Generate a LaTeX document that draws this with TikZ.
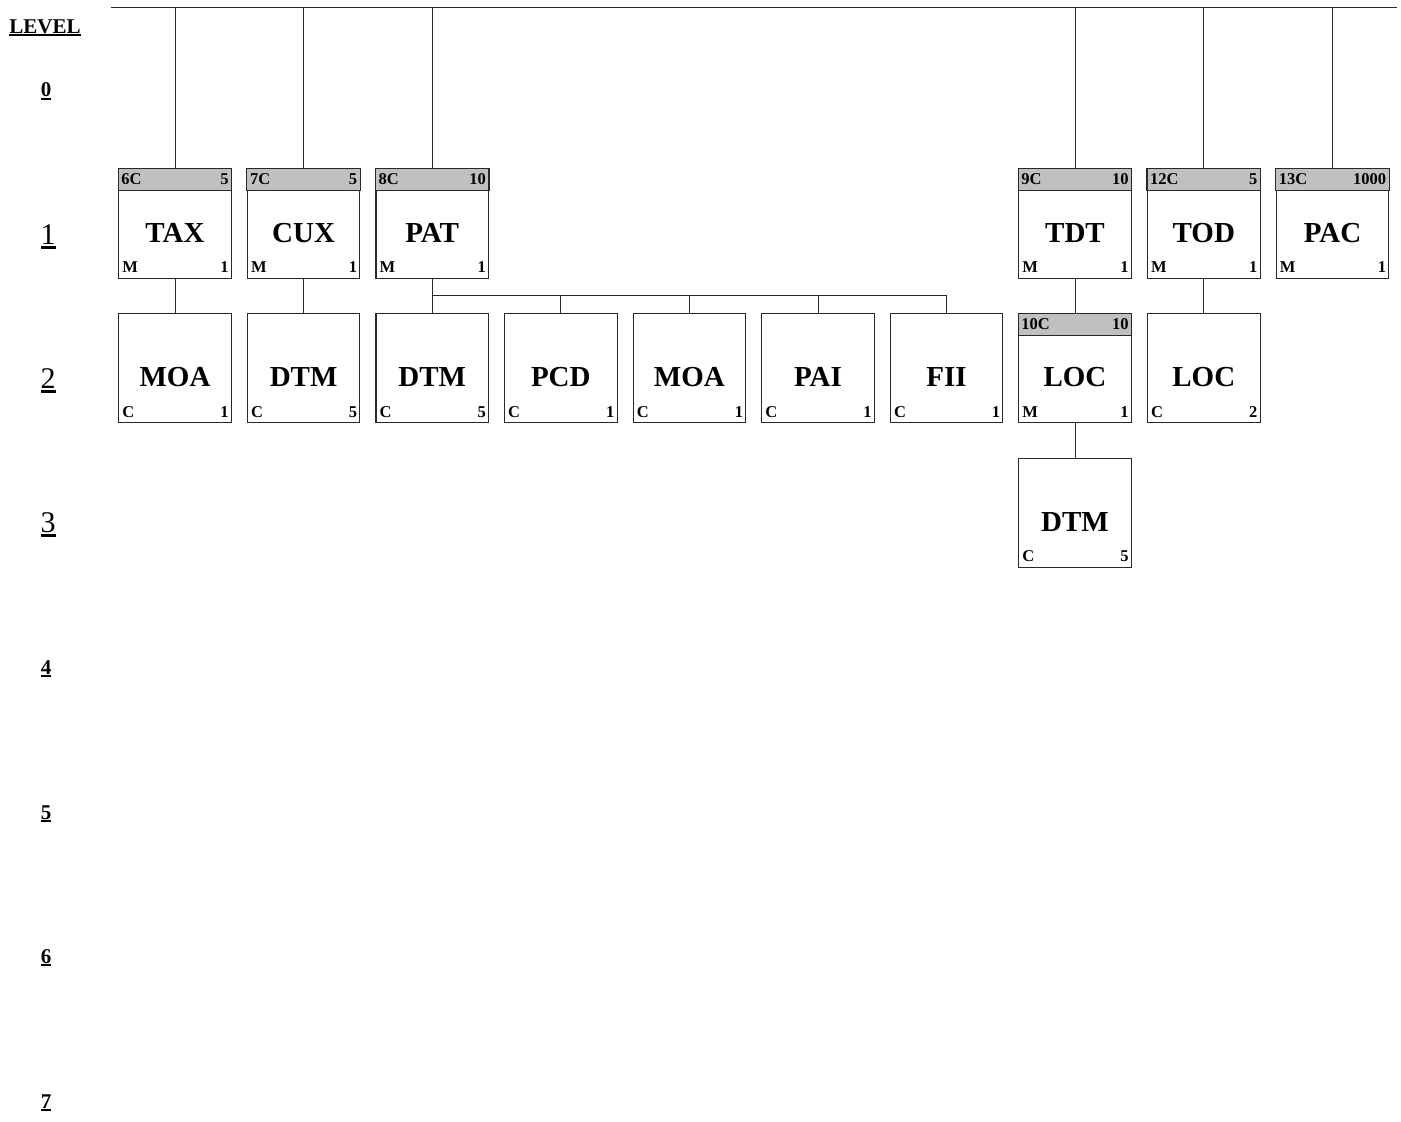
\documentclass[tikz,border=0pt]{standalone}
\usepackage{fontspec}
\setmainfont{Liberation Serif}
\usetikzlibrary{calc}
\definecolor{hdrgray}{RGB}{192,192,192}
\definecolor{boxline}{RGB}{40,40,40}
\newcommand{\myul}[1]{{\setbox0\hbox{#1}\leavevmode\rlap{\raisebox{-0.16em}{\rule{\wd0}{0.1em}}}\box0}}
\tikzset{
  sbox/.style={draw=boxline, line width=1.1pt, fill=white, minimum width=112.5pt, minimum height=109pt, inner sep=0pt},
  hdr/.style={draw=boxline, line width=1.1pt, fill=hdrgray},
  nm/.style={inner sep=0pt, font=\fontsize{29}{31}\selectfont\bfseries},
  sm/.style={inner sep=0pt, font=\fontsize{16.5}{18}\selectfont\bfseries},
  conn/.style={draw=boxline, line width=1pt},
  lvlb/.style={inner sep=0pt, anchor=base, font=\fontsize{21}{23}\selectfont\bfseries},
  lvlp/.style={inner sep=0pt, anchor=base, font=\fontsize{30}{32}\selectfont},
}
\newcommand{\segN}[6]{%
  \node[sbox, anchor=north] (#1) at (#2,#3) {};
  \node[nm] (#1-nm) at ($(#1.center)+(0,9)$) {#4};
  \node[sm, anchor=base west] (#1-bl) at ($(#1.south west)+(4,-6)$) {#5};
  \node[sm, anchor=base east] (#1-br) at ($(#1.south east)+(-3,-6)$) {#6};
}
\newcommand{\segH}[8]{%
  \segN{#1}{#2}{#3}{#4}{#5}{#6}
  \draw[hdr] (#1.north west) rectangle ($(#1.north east)+(0,22)$);
  \node[sm, anchor=base west] (#1-hl) at ($(#1.north west)+(3,16)$) {#7};
  \node[sm, anchor=base east] (#1-hr) at ($(#1.north east)+(-3,16)$) {#8};
}
\begin{document}
\begin{tikzpicture}[x=1pt, y=-1pt]
\useasboundingbox (0,0) rectangle (1401,1122);
% level labels
\node[lvlb, font=\fontsize{21}{23}\selectfont\bfseries] (lvl) at (45,33) {\myul{LEVEL}};
\node[lvlb] (l0) at (46,96.5) {\myul{0}};
\node[lvlp] (l1) at (48,244) {\myul{1}};
\node[lvlp] (l2) at (48,388) {\myul{2}};
\node[lvlp] (l3) at (48,532) {\myul{3}};
\node[lvlb] (l4) at (46,674) {\myul{4}};
\node[lvlb] (l5) at (46,819) {\myul{5}};
\node[lvlb] (l6) at (46,963) {\myul{6}};
\node[lvlb] (l7) at (46,1108) {\myul{7}};
% top line
\coordinate (tl) at (111,7);
\coordinate (tr) at (1397,7);
\draw[conn] (tl) -- (tr);
% row 1
\segH{tax}{175}{168.5}{TAX}{M}{1}{6C}{5}
\segH{cux}{303.6}{168.5}{CUX}{M}{1}{7C}{5}
\segH{pat}{432.2}{168.5}{PAT}{M}{1}{8C}{10}
\segH{tdt}{1075}{168.5}{TDT}{M}{1}{9C}{10}
\segH{tod}{1203.8}{168.5}{TOD}{M}{1}{12C}{5}
\segH{pac}{1332.5}{168.5}{PAC}{M}{1}{13C}{1000}
% row 2
\segN{moaa}{175}{313.3}{MOA}{C}{1}
\segN{dtma}{303.6}{313.3}{DTM}{C}{5}
\segN{dtmb}{432.2}{313.3}{DTM}{C}{5}
\segN{pcd}{560.8}{313.3}{PCD}{C}{1}
\segN{moab}{689.4}{313.3}{MOA}{C}{1}
\segN{pai}{818}{313.3}{PAI}{C}{1}
\segN{fii}{946.6}{313.3}{FII}{C}{1}
\segH{loca}{1075}{313.3}{LOC}{M}{1}{10C}{10}
\segN{locb}{1203.8}{313.3}{LOC}{C}{2}
% row 3
\segN{dtmc}{1075}{457.5}{DTM}{C}{5}
% connectors from top line
\foreach \n in {tax,cux,pat,tdt,tod,pac}{
  \draw[conn] (\n.north) -- (\n.north |- tl);
}
% simple parent-child
\draw[conn] (tax.south) -- (moaa.north);
\draw[conn] (cux.south) -- (dtma.north);
\draw[conn] (tdt.south) -- (loca.north);
\draw[conn] (tod.south) -- (locb.north);
\draw[conn] (loca.south) -- (dtmc.north);
% PAT group
\coordinate (pbar) at (432.2,295.5);
\draw[conn] (pat.south) -- (pat.south |- pbar);
\draw[conn] (dtmb.north |- pbar) -- (fii.north |- pbar);
\foreach \n in {dtmb,pcd,moab,pai,fii}{
  \draw[conn] (\n.north) -- (\n.north |- pbar);
}
\end{tikzpicture}
\end{document}
